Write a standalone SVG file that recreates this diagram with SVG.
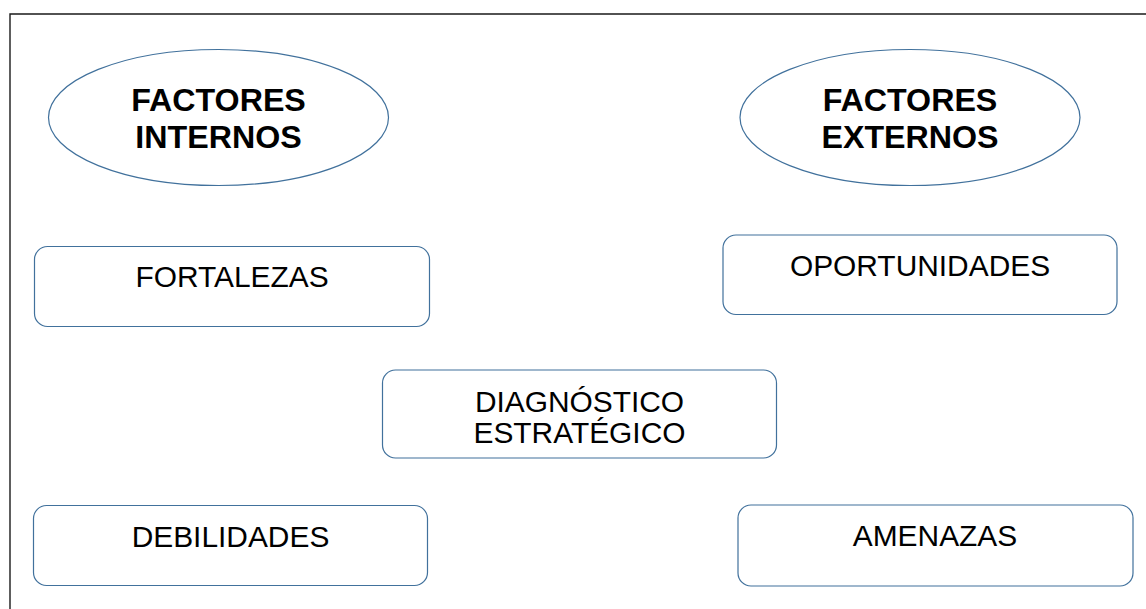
<svg xmlns="http://www.w3.org/2000/svg" width="1146" height="609" viewBox="0 0 1146 609">
<style>
.shape{fill:#ffffff;stroke:#41719c;stroke-width:1.2}
.b{font-family:"Liberation Sans",Arial,sans-serif;font-weight:bold;font-size:32.2px;fill:#000;text-anchor:middle}
.r{font-family:"Liberation Sans",Arial,sans-serif;font-size:29.9px;fill:#000;text-anchor:middle}
.frame{stroke:#1a1a1a;stroke-width:1.4;fill:none}
</style>
<rect width="1146" height="609" fill="#ffffff"/>
<g id="frame"><polyline class="frame" points="10,609 10,14 1146,14"/></g>
<g id="connectors"></g>
<g id="factores-internos">
<ellipse class="shape" cx="218.5" cy="117.5" rx="170" ry="68"/>
<text class="b" x="218.5" y="111">FACTORES</text>
<text class="b" x="218.5" y="147.5">INTERNOS</text>
</g>
<g id="factores-externos">
<ellipse class="shape" cx="910" cy="117.5" rx="170" ry="68"/>
<text class="b" x="910" y="111">FACTORES</text>
<text class="b" x="910" y="147.5">EXTERNOS</text>
</g>
<g id="fortalezas">
<rect class="shape" x="34.5" y="246.5" width="395" height="80" rx="13"/>
<text class="r" x="232" y="287">FORTALEZAS</text>
</g>
<g id="oportunidades">
<rect class="shape" x="723" y="235" width="394" height="79.5" rx="13"/>
<text class="r" x="920" y="276">OPORTUNIDADES</text>
</g>
<g id="diagnostico">
<rect class="shape" x="382.5" y="370" width="394" height="88" rx="13"/>
<text class="r" x="579.5" y="412">DIAGNÓSTICO</text>
<text class="r" x="579.5" y="443">ESTRATÉGICO</text>
</g>
<g id="debilidades">
<rect class="shape" x="33.5" y="505.5" width="394" height="80" rx="13"/>
<text class="r" x="230.5" y="547">DEBILIDADES</text>
</g>
<g id="amenazas">
<rect class="shape" x="738" y="505" width="395" height="81" rx="13"/>
<text class="r" x="935" y="546">AMENAZAS</text>
</g>
</svg>
